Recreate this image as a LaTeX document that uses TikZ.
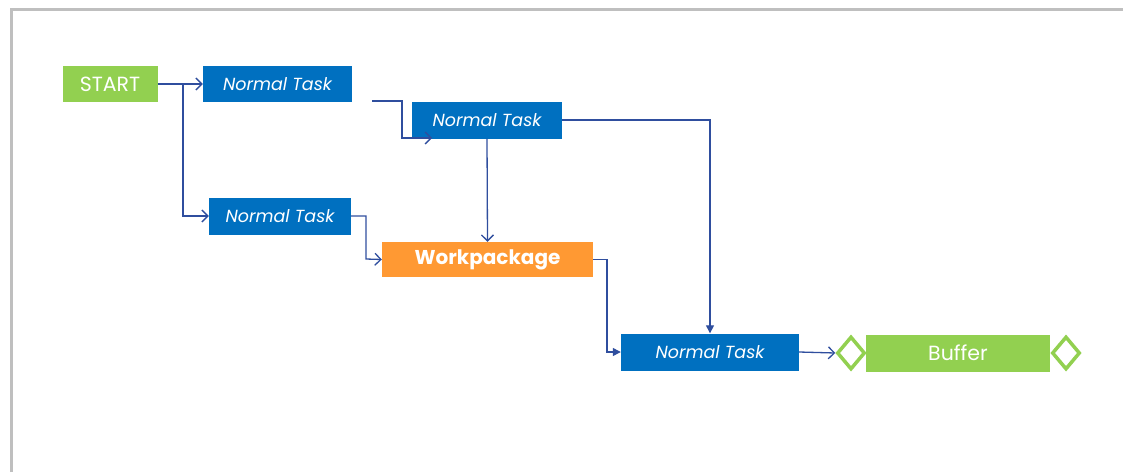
\documentclass[tikz,border=0pt]{standalone}
\usepackage{fontspec}
\setmainfont{Poppins}
\usetikzlibrary{arrows.meta,shapes.geometric}
\definecolor{taskblue}{HTML}{0070C0}
\definecolor{startgreen}{HTML}{92D050}
\definecolor{wporange}{HTML}{FF9933}
\definecolor{linkblue}{HTML}{2F4E9E}
\definecolor{framegray}{HTML}{BFBFBF}
\tikzset{
  box/.style={rectangle, inner sep=0pt, text=white},
  taskbox/.style={box, fill=taskblue, font=\fontsize{17.5}{20}\selectfont\itshape},
  greenbox/.style={box, fill=startgreen, font=\fontsize{20.5}{23}\selectfont},
  wpbox/.style={box, fill=wporange, font=\fontsize{20}{23}\selectfont\bfseries},
  milestone/.style={diamond, draw=startgreen, line width=3.5pt, fill=white, minimum width=28pt, minimum height=33pt, inner sep=0pt},
  link/.style={draw=linkblue, line width=1.3pt, -{Straight Barb[length=6pt,width=12pt]}},
  linkf/.style={draw=linkblue, line width=1.3pt, -{Triangle[length=8pt,width=8pt]}}
}
\begin{document}
\begin{tikzpicture}[x=1pt,y=-1pt]
\useasboundingbox (0,0) rectangle (1123,472);
\draw[framegray, line width=3pt] (11,472) -- (11,9) -- (1123,9);
\node[greenbox, minimum width=95pt, minimum height=36pt] (start) at (110,84) {START};
\node[taskbox, minimum width=149pt, minimum height=36pt] (t1) at (277.5,84) {Normal Task};
\node[taskbox, minimum width=150pt, minimum height=37pt] (t2) at (487,120) {Normal Task};
\node[taskbox, minimum width=142pt, minimum height=37pt] (t3) at (280,216) {Normal Task};
\node[wpbox, minimum width=211pt, minimum height=35pt] (wp) at (487.5,259.5) {Workpackage};
\node[taskbox, minimum width=178pt, minimum height=37pt] (t4) at (710,352) {Normal Task};
\node[greenbox, minimum width=184pt, minimum height=37pt] (buf) at (958,353) {Buffer};
\node[milestone] (m1) at (851,353) {};
\node[milestone] (m2) at (1066,353) {};
\coordinate (split) at (183,84);
\coordinate (t1out) at (372,101);
\coordinate (t2in) at (432,138);
\draw[link] (start.east) -- (t1.west);
\draw[link] (split) |- (t3.west);
\draw[link] (t1out) -- (402,101) |- (t2in);
\draw[link] (t3.east) -| (366,259) -- (wp.west);
\draw[link] (t2.south) -- (wp.north);
\draw[linkf] (t2.east) -| (t4.north);
\draw[linkf] (wp.east) -| (607,352) -- (t4.west);
\draw[link] (t4.east) -- (m1.west);
\end{tikzpicture}
\end{document}
